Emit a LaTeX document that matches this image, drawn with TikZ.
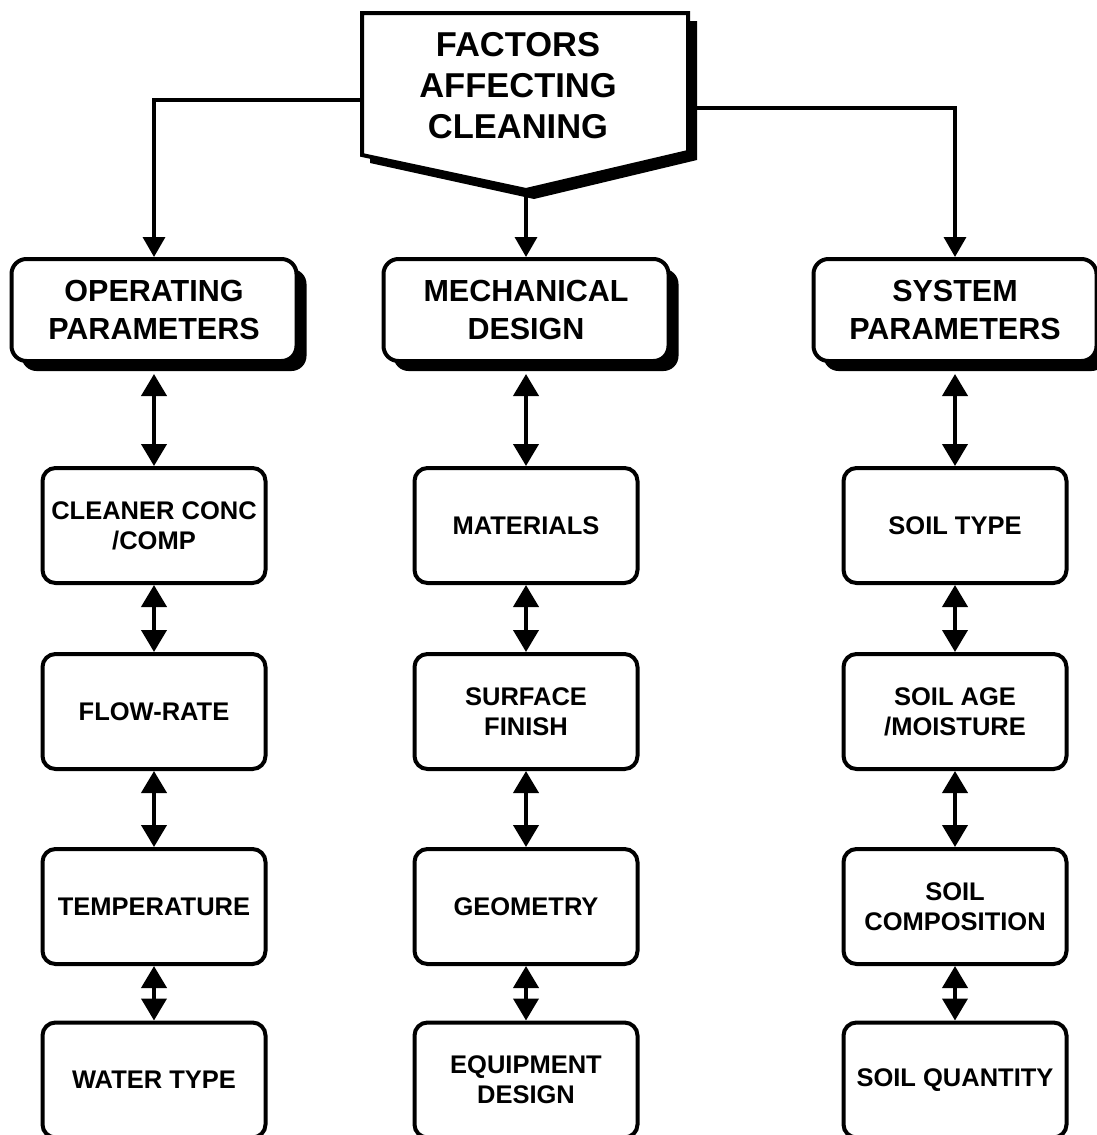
\documentclass[tikz,border=0pt]{standalone}
\usepackage{fontspec}
\setmainfont{Liberation Sans}
\usetikzlibrary{arrows.meta,shadows}
\begin{document}
\begin{tikzpicture}[x=1pt,y=-1pt,
 sbox/.style={draw, line width=4pt, rounded corners=13pt, fill=white, align=center, inner sep=0pt, minimum width=223pt, minimum height=115pt, font=\bfseries\fontsize{25.5}{30}\selectfont},
 mbox/.style={sbox, minimum width=285pt, minimum height=102pt, rounded corners=15pt, font=\bfseries\fontsize{30.5}{38}\selectfont, drop shadow={shadow xshift=10pt, shadow yshift=-10pt, fill=black, opacity=1}},
 link/.style={line width=4pt, {Triangle[length=22pt,width=25pt]}-{Triangle[length=22pt,width=25pt]}},
 feed/.style={line width=3.5pt, -{Triangle[length=20pt,width=22pt]}}]
\useasboundingbox (0,0) rectangle (1097,1135);

% title pentagon with shadow
\fill[black] (370,21) -- (697,21) -- (697,160) -- (534,199) -- (370,163) -- cycle;
\draw[line width=4pt, fill=white, line join=miter] (362,13) -- (688,13) -- (688,152) -- (526,190) -- (362,155) -- cycle;
\node[font=\bfseries\fontsize{34.5}{41}\selectfont, align=center] (title) at (518,86) {FACTORS\\AFFECTING\\CLEANING};
\coordinate (tL) at (362,100);
\coordinate (tR) at (688,108);
\coordinate (tB) at (526,190);

% level 1
\node[mbox] (op) at (154,310) {OPERATING\\PARAMETERS};
\node[mbox] (mech) at (526,310) {MECHANICAL\\DESIGN};
\node[mbox, minimum width=283pt] (sys) at (955,310) {SYSTEM\\PARAMETERS};

% level 2
\node[sbox] (c1) at (154,525.5) {CLEANER CONC\\/COMP};
\node[sbox] (c2) at (154,711.5) {FLOW-RATE};
\node[sbox] (c3) at (154,906.5) {TEMPERATURE};
\node[sbox] (c4) at (154,1080) {WATER TYPE};

\node[sbox] (m1) at (526,525.5) {MATERIALS};
\node[sbox] (m2) at (526,711.5) {SURFACE\\FINISH};
\node[sbox] (m3) at (526,906.5) {GEOMETRY};
\node[sbox] (m4) at (526,1080) {EQUIPMENT\\DESIGN};

\node[sbox] (s1) at (955,525.5) {SOIL TYPE};
\node[sbox] (s2) at (955,711.5) {SOIL AGE\\/MOISTURE};
\node[sbox] (s3) at (955,906.5) {SOIL\\COMPOSITION};
\node[sbox] (s4) at (955,1080) {SOIL QUANTITY};

% feeds from title
\draw[feed] (tL) -| (op.north);
\draw[feed] (tR) -| (sys.north);
\draw[feed] (tB) -- (mech.north);

% links
\draw[link] ([yshift=-11pt]op.south) -- (c1.north);
\draw[link] ([yshift=-11pt]mech.south) -- (m1.north);
\draw[link] ([yshift=-11pt]sys.south) -- (s1.north);
\foreach \p/\q in {c1/c2,c2/c3,c3/c4,m1/m2,m2/m3,m3/m4,s1/s2,s2/s3,s3/s4}
  \draw[link] (\p.south) -- (\q.north);
\end{tikzpicture}
\end{document}
